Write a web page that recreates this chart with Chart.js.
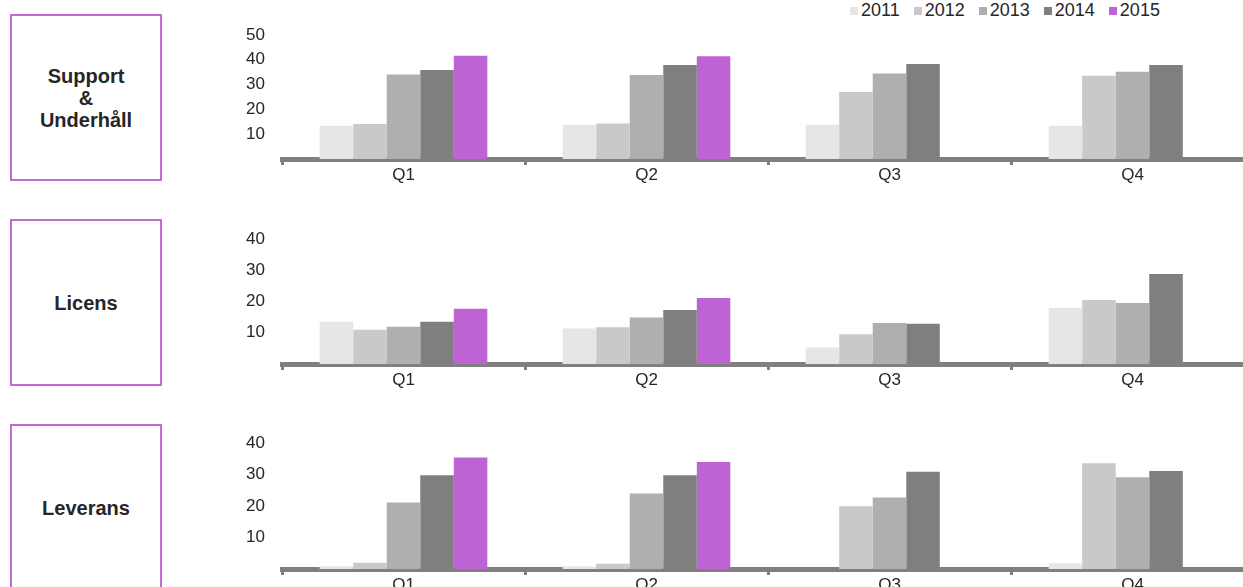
<!DOCTYPE html>
<html>
<head>
<meta charset="utf-8">
<script src="https://cdn.jsdelivr.net/npm/chart.js@4.4.1/dist/chart.umd.min.js"></script>
<style>
  body { margin: 0; width: 1243px; height: 587px; overflow: hidden; position: relative; background: #fff;
         font-family: "Liberation Sans", Arial, sans-serif; }
  .box { position: absolute; left: 10px; width: 148px; height: 163px; border: 2px solid #c36ad6;
         display: flex; align-items: center; justify-content: center; text-align: center;
         font-weight: bold; font-size: 20px; line-height: 22px; color: #262626; white-space: pre-line; }
  canvas { position: absolute; left: 200px; }
  #legend { position: absolute; top: 0; left: 850px; height: 21px; display: flex; align-items: center;
            font-size: 18px; color: #262626; }
  #legend span.item { display: flex; align-items: center; margin-right: 14px; }
  #legend span.sw { width: 8px; height: 8px; margin-right: 3px; display: inline-block; }
</style>
</head>
<body>
<div id="legend"></div>
<canvas id="c1" width="1060" height="189" style="top:0px"></canvas>
<canvas id="c2" width="1060" height="189" style="top:205px"></canvas>
<canvas id="c3" width="1060" height="190" style="top:409px"></canvas>
<script>
// categories / series
var quarters = ['Q1', 'Q2', 'Q3', 'Q4'];
var years = ['2011', '2012', '2013', '2014', '2015'];
var yearColors = ['#e6e6e6', '#c9c9c9', '#afafaf', '#7f7f7f', '#be63d3'];
var panelTitles = ['Support\n&\nUnderhåll', 'Licens', 'Leverans'];
var panelTops = [14, 219, 424];

// Support & Underhåll
var support2011 = [13.4, 13.8, 13.8, 13.4];
var support2012 = [14.1, 14.3, 27.0, 33.6];
var support2013 = [34.1, 33.9, 34.5, 35.2];
var support2014 = [35.9, 37.9, 38.3, 37.9];
var support2015 = [41.6, 41.4, null, null];
var supportMax = 50;

// Licens
var licens2011 = [13.5, 11.4, 5.3, 18.0];
var licens2012 = [11.0, 11.8, 9.5, 20.5];
var licens2013 = [11.9, 14.9, 13.1, 19.5];
var licens2014 = [13.5, 17.3, 12.9, 28.8];
var licens2015 = [17.7, 21.1, null, null];
var licensMax = 40;

// Leverans
var leverans2011 = [0.9, 0.9, 0, 1.8];
var leverans2012 = [2.0, 1.7, 19.9, 33.6];
var leverans2013 = [21.1, 24.0, 22.7, 29.1];
var leverans2014 = [29.8, 29.8, 30.9, 31.1];
var leverans2015 = [35.4, 34.0, null, null];
var leveransMax = 40;

var font = '"Liberation Sans", Arial, sans-serif';
var textColor = '#262626';
var axisGray = '#808080';

// left title boxes
panelTitles.forEach(function(t, i) {
    var d = document.createElement('div');
    d.className = 'box';
    d.style.top = panelTops[i] + 'px';
    d.textContent = t;
    document.body.appendChild(d);
});

// legend
var lg = document.getElementById('legend');
years.forEach(function(y, i) {
    var it = document.createElement('span');
    it.className = 'item';
    it.innerHTML = '<span class="sw" style="background:' + yearColors[i] + '"></span>' + y;
    lg.appendChild(it);
});

function makeChart(id, series, yMax, padTop) {
    new Chart(document.getElementById(id), {
        type: 'bar',
        data: {
            labels: quarters,
            datasets: years.map(function(y, i) {
                return {
                    label: y,
                    data: series[i],
                    backgroundColor: yearColors[i],
                    borderWidth: 0,
                    categoryPercentage: 0.69,
                    barPercentage: 1.0
                };
            })
        },
        options: {
            responsive: false,
            animation: false,
            layout: { padding: { top: padTop, right: 6, bottom: 0, left: 0 } },
            plugins: { legend: { display: false }, tooltip: { enabled: false } },
            scales: {
                x: {
                    z: 1,
                    grid: { display: true, drawOnChartArea: false, drawTicks: true, tickLength: 6,
                            color: axisGray, lineWidth: 3, offset: true },
                    border: { display: true, color: axisGray, width: 5 },
                    ticks: { color: textColor, font: { family: font, size: 17 }, padding: 0 },
                    afterFit: function(s) { s.height = 30; }
                },
                y: {
                    min: 0,
                    max: yMax,
                    grid: { display: false, drawTicks: false },
                    border: { display: false },
                    ticks: {
                        stepSize: 10,
                        padding: 17,
                        color: textColor,
                        font: { family: font, size: 17 },
                        callback: function(v) { return v === 0 ? '' : v; }
                    },
                    afterFit: function(s) { s.width = 82; }
                }
            }
        }
    });
}

makeChart('c1', [support2011, support2012, support2013, support2014, support2015], supportMax, 35);
makeChart('c2', [licens2011, licens2012, licens2013, licens2014, licens2015], licensMax, 34);
makeChart('c3', [leverans2011, leverans2012, leverans2013, leverans2014, leverans2015], leveransMax, 34);
</script>
</body>
</html>
